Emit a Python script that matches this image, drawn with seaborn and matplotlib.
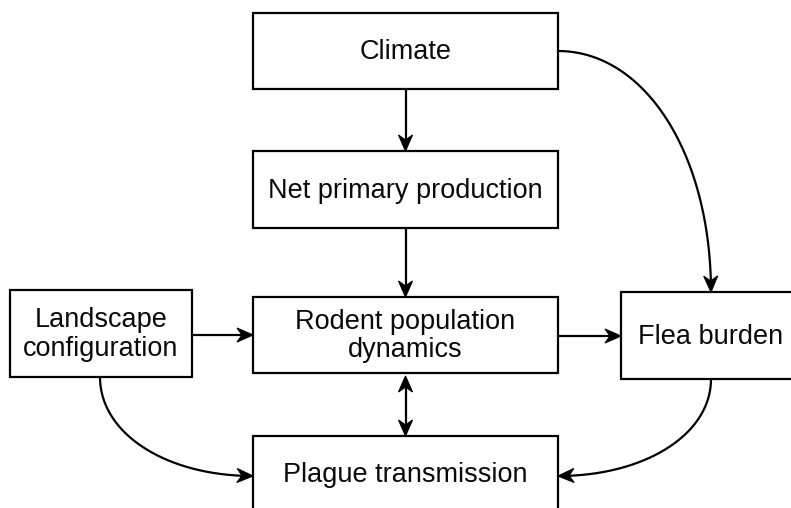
import numpy as np
import matplotlib
matplotlib.use("Agg")
import matplotlib.pyplot as plt
import seaborn as sns
from matplotlib.patches import Rectangle, Polygon

# ---- diagram content ----
node_names = ["Climate", "Net primary production", "Landscape\nconfiguration",
              "Rodent population\ndynamics", "Flea burden", "Plague transmission"]
edge_sources = [0, 1, 2, 3, 3, 0, 2, 4]
edge_targets = [1, 3, 3, 4, 5, 4, 5, 5]
edge_two_way = [False, False, False, False, True, False, False, False]

# ---- layout (pixel coordinates of the 791x508 canvas) ----
BOXES = [  # x0, y0, x1, y1
    (253, 13, 558, 89),
    (253, 151, 558, 228),
    (10, 290, 192, 377),
    (253, 297, 558, 373),
    (621, 292, 801, 379),
    (253, 436, 558, 511),
]
EDGES = [  # start, end, start direction, end direction (None = straight)
    ((405.5, 89), (405.5, 151), None, None),
    ((405.5, 228), (405.5, 297), None, None),
    ((192, 335), (253, 335), None, None),
    ((558, 336), (621, 336), None, None),
    ((405.5, 376), (405.5, 436), None, None),
    ((558, 51), (711, 292), "h", "v"),
    ((100, 377), (253, 476), "v", "h"),
    ((711, 379), (558, 476), "v", "h"),
]

LW = 1.6
HEAD_L, HEAD_W, NOTCH = 16.0, 7.0, 5.0
K = 0.57

sns.set_theme(style="white")
plt.rcParams["font.family"] = ["Liberation Sans", "DejaVu Sans"]

fig = plt.figure(figsize=(7.91, 5.08), dpi=100)
ax = fig.add_axes([0, 0, 1, 1])
ax.set_xlim(0, 791)
ax.set_ylim(508, 0)
ax.axis("off")

for (x0, y0, x1, y1), name in zip(BOXES, node_names):
    ax.add_patch(Rectangle((x0, y0), x1 - x0, y1 - y0, facecolor="white",
                           edgecolor="black", lw=LW, zorder=2))
    ax.text((x0 + x1) / 2, (y0 + y1) / 2 + 1, name, ha="center", va="center",
            fontsize=19.5, color="#0a0a0a", linespacing=1.12, zorder=3)


def bezier(p0, p3, d0, d1, n=200):
    p0 = np.array(p0, float)
    p3 = np.array(p3, float)
    delta = p3 - p0
    t = np.linspace(0, 1, n)[:, None]
    if d0 is None:
        return p0 + t * delta
    v0 = np.array([delta[0], 0]) if d0 == "h" else np.array([0, delta[1]])
    v1 = np.array([delta[0], 0]) if d1 == "h" else np.array([0, delta[1]])
    p1 = p0 + K * v0
    p2 = p3 - K * v1
    return ((1 - t) ** 3) * p0 + 3 * ((1 - t) ** 2) * t * p1 + 3 * (1 - t) * t ** 2 * p2 + t ** 3 * p3


def trim_and_head(pts):
    tip = pts[-1]
    d = np.linalg.norm(pts - tip, axis=1)
    keep = d > HEAD_L - NOTCH
    idx = np.where(d > HEAD_L)[0]
    back = pts[idx[-1]] if len(idx) else pts[0]
    u = tip - back
    u = u / np.linalg.norm(u)
    nrm = np.array([-u[1], u[0]])
    notch_pt = tip - (HEAD_L - NOTCH) * u
    head = np.array([tip, tip - HEAD_L * u + HEAD_W * nrm, notch_pt,
                     tip - HEAD_L * u - HEAD_W * nrm])
    return np.vstack([pts[keep], notch_pt]), head


for (p0, p3, d0, d1), two in zip(EDGES, edge_two_way):
    pts = bezier(p0, p3, d0, d1)
    heads = []
    pts, h = trim_and_head(pts)
    heads.append(h)
    if two:
        rev, h2 = trim_and_head(pts[::-1])
        pts = rev[::-1]
        heads.append(h2)
    sns.lineplot(x=pts[:, 0], y=pts[:, 1], sort=False, estimator=None,
                 color="black", lw=LW, ax=ax, zorder=4)
    for h in heads:
        ax.add_patch(Polygon(h, closed=True, facecolor="black", edgecolor="black",
                             lw=0.8, joinstyle="miter", zorder=5))

ax.set_xlim(0, 791)
ax.set_ylim(508, 0)
ax.axis("off")
fig.savefig("out.png", dpi=100)
